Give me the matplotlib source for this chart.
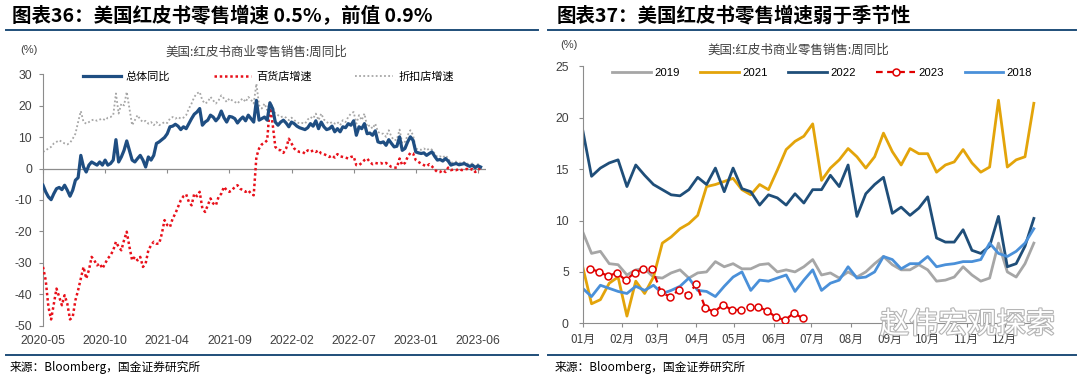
import numpy as np
import matplotlib
matplotlib.use("Agg")
import matplotlib.pyplot as plt
from matplotlib.lines import Line2D
import matplotlib.patheffects as pe

plt.rcParams['font.family'] = ['Liberation Sans', 'Noto Sans CJK SC', 'DejaVu Sans']
plt.rcParams['axes.unicode_minus'] = False

# ---- left chart: weekly YoY, 2020-05 .. 2023-06
total = [-5.3, -7.4, -9.0, -9.9, -8.0, -6.4, -6.0, -6.7, -5.3, -6.9, -8.8, -6.9, -3.7, -2.9, 4.2, 0.5,
         -1.1, 1.1, 2.1, 1.6, 1.1, 2.1, 1.1, 2.7, 1.1, 1.6, 2.7, 9.2, 2.1, 3.7, 5.8, 8.8,
         5.8, 2.7, 2.1, 3.2, 4.2, 2.7, 0.5, 3.7, 2.7, 4.2, 8.0, 8.5, 9.2, 9.9, 11.1, 13.3,
         13.5, 14.1, 13.5, 12.4, 13.3, 12.7, 14.3, 15.9, 17.3, 18.0, 19.1, 13.8, 14.8, 15.4, 17.0, 16.4,
         15.2, 16.2, 18.3, 16.2, 14.8, 16.6, 16.4, 15.9, 14.5, 15.6, 16.4, 15.2, 17.0, 15.9, 14.8, 21.7,
         15.4, 15.9, 16.4, 15.4, 20.9, 19.1, 14.8, 13.8, 14.8, 15.4, 14.5, 13.3, 14.8, 14.3, 13.5, 13.0,
         12.7, 12.4, 13.0, 14.3, 13.5, 15.2, 12.7, 14.8, 13.3, 12.4, 12.7, 13.5, 11.7, 12.7, 11.7, 13.3,
         13.0, 14.3, 13.8, 15.2, 10.6, 13.3, 12.7, 14.3, 11.1, 11.3, 10.6, 12.0, 8.5, 8.2, 8.5, 7.4,
         9.2, 8.0, 6.9, 7.1, 10.1, 5.8, 6.4, 8.5, 10.1, 9.0, 5.3, 5.0, 4.8, 5.0, 4.2, 4.8,
         5.3, 3.9, 2.7, 2.9, 2.4, 3.2, 2.4, 1.1, 1.4, 1.6, 1.2, 1.4, 1.6, 1.1, 0.7, 1.1,
         0.3, 0.9, 0.5]
dept_store = [-31.3, -35.5, -44.0, -48.0, -43.0, -38.2, -40.8, -43.5, -40.3, -43.0, -48.0, -47.2, -41.9, -38.7, -35.0, -31.3,
              -35.0, -32.3, -28.1, -29.2, -30.8, -30.2, -31.8, -30.2, -28.6, -27.6, -26.0, -23.3, -24.9, -26.0, -22.8, -20.1,
              -24.9, -29.2, -28.1, -29.2, -28.1, -31.3, -30.2, -26.0, -24.4, -23.3, -23.9, -23.9, -20.7, -16.4, -18.0, -18.6,
              -15.9, -14.3, -12.2, -10.1, -8.8, -8.2, -10.6, -11.7, -8.0, -8.8, -7.4, -12.7, -13.8, -11.7, -9.5, -11.1,
              -11.7, -9.0, -8.0, -5.8, -6.9, -7.4, -6.9, -5.8, -5.3, -6.4, -6.9, -7.4, -6.9, -8.0, -8.5, 3.7,
              6.4, 7.7, 8.2, 9.0, 20.1, 14.3, 6.9, 6.0, 5.8, 5.0, 6.4, 9.5, 8.0, 6.4, 5.6, 5.3,
              5.3, 4.8, 5.8, 5.3, 5.8, 5.3, 5.8, 4.8, 4.6, 4.2, 3.7, 4.2, 3.5, 4.6, 3.9, 3.7,
              3.5, 3.2, 3.7, 3.9, 1.1, 1.1, 1.8, 2.7, 3.2, 2.1, 1.4, 1.8, 1.6, 1.8, 1.4, 1.8,
              1.1, 0.5, 0.3, 0.3, 3.2, 1.1, 1.8, 3.7, 5.0, 4.8, 2.7, 2.1, 1.6, 1.1, 0.7, 1.4,
              0.7, -0.3, -1.1, -1.1, -0.5, -1.1, 0.3, -0.5, -0.3, -0.5, -0.1, -0.5, -0.3, -0.1, -0.5, -0.1,
              -1.1, -0.5, 0.3]
discount = [5.3, 5.8, 6.4, 6.9, 8.0, 8.5, 9.0, 8.5, 8.0, 7.7, 8.2, 9.5, 11.1, 14.8, 18.3, 14.8,
            14.3, 14.8, 15.4, 15.6, 15.2, 15.6, 15.9, 15.4, 16.2, 16.4, 17.0, 23.9, 17.5, 20.7, 20.1, 24.4,
            19.1, 13.8, 15.4, 17.0, 15.6, 14.8, 15.2, 14.3, 14.8, 13.8, 14.8, 13.8, 14.3, 14.8, 14.5, 15.9,
            16.4, 15.9, 16.4, 15.9, 16.2, 17.0, 19.1, 20.7, 22.8, 23.9, 24.4, 21.7, 20.7, 21.2, 22.8, 21.7,
            20.7, 21.7, 23.3, 22.3, 21.2, 22.3, 21.7, 21.2, 20.7, 21.7, 22.3, 21.2, 22.8, 21.9, 20.7, 27.0,
            20.1, 19.1, 20.7, 18.6, 21.2, 19.6, 17.5, 17.0, 16.4, 16.6, 16.2, 15.4, 16.2, 15.4, 14.8, 14.3,
            14.5, 14.3, 15.6, 16.4, 15.9, 17.5, 15.4, 17.5, 15.6, 14.8, 14.3, 14.8, 14.3, 14.8, 13.8, 15.4,
            14.8, 16.4, 17.5, 18.0, 14.3, 17.0, 15.4, 17.5, 13.3, 13.8, 12.7, 14.3, 11.7, 11.1, 11.1, 10.1,
            12.2, 10.1, 9.0, 9.2, 12.4, 8.0, 8.5, 10.6, 12.2, 10.6, 6.4, 6.0, 6.0, 6.4, 5.8, 6.4,
            6.0, 4.8, 3.7, 3.9, 3.5, 4.2, 3.2, 1.8, 2.1, 2.2, 1.8, 2.0, 2.1, 1.6, 1.4, 1.6,
            0.7, 1.4, 1.0]
left_ticks = [0, 23, 46, 69, 92, 115, 138, 161]
left_labels = ['2020-05', '2020-10', '2021-04', '2021-09', '2022-02', '2022-07', '2023-01', '2023-06']

# ---- right chart: weekly YoY by year, x = day of year
y2019 = [8.9, 6.8, 7.0, 5.8, 5.7, 4.7, 5.2, 5.3, 4.5, 4.4, 4.9, 5.2, 4.4, 4.9, 5.0, 6.0,
         5.5, 5.8, 5.3, 5.3, 5.7, 5.8, 5.0, 5.2, 5.0, 5.5, 6.2, 4.7, 4.9, 4.4, 5.0, 4.5,
         5.0, 5.8, 6.5, 5.7, 5.2, 5.2, 5.7, 5.2, 4.1, 4.2, 4.5, 5.5, 4.7, 4.1, 4.4, 7.8,
         5.0, 4.5, 5.8, 7.8]
y2021 = [5.5, 1.9, 2.3, 3.9, 4.5, 0.7, 4.1, 2.9, 4.5, 7.8, 8.4, 9.2, 9.7, 10.5, 13.3, 13.5,
         13.8, 14.1, 13.0, 12.5, 13.5, 13.0, 14.9, 16.9, 17.7, 18.2, 19.4, 13.9, 15.1, 15.9, 17.0, 16.2,
         15.1, 16.2, 18.5, 16.7, 15.4, 17.0, 16.5, 16.5, 14.7, 15.4, 15.7, 16.9, 15.6, 14.7, 15.2, 21.7,
         15.2, 15.9, 16.2, 21.4]
y2022 = [18.8, 14.3, 15.1, 15.6, 15.9, 13.3, 15.4, 14.4, 13.5, 13.0, 12.5, 12.4, 13.0, 14.2, 13.5, 15.1,
         12.8, 15.1, 13.1, 12.8, 11.5, 12.5, 12.2, 11.5, 12.6, 11.7, 13.0, 13.0, 14.4, 13.3, 15.4, 10.4,
         12.6, 13.5, 14.2, 10.7, 11.3, 10.5, 11.2, 12.3, 8.3, 7.9, 7.9, 9.1, 7.1, 6.8, 7.5, 10.4,
         5.5, 5.8, 7.5, 10.2]
y2023 = [5.3, 5.0, 4.6, 4.9, 4.2, 4.9, 5.3, 5.3, 3.0, 2.6, 3.2, 2.8, 3.8, 1.5, 1.1, 1.8,
         1.3, 1.3, 1.6, 1.6, 1.2, 0.6, 0.3, 1.0, 0.5]
y2018 = [3.4, 2.6, 3.7, 3.4, 3.1, 2.9, 3.6, 3.2, 3.7, 2.9, 3.2, 3.6, 4.4, 3.2, 3.1, 2.6,
         3.6, 4.5, 5.0, 3.2, 4.2, 4.1, 4.4, 4.7, 3.1, 4.2, 5.2, 3.2, 3.9, 4.2, 5.5, 4.4,
         4.5, 5.0, 6.5, 6.2, 5.3, 5.8, 5.8, 6.5, 5.5, 5.7, 5.8, 6.0, 6.0, 6.2, 7.8, 6.8,
         6.5, 7.0, 7.8, 9.2]
month_days = [1, 32, 60, 91, 121, 152, 182, 213, 244, 274, 305, 335]
month_labels = ['01月', '02月', '03月', '04月', '05月', '06月', '07月', '08月', '09月', '10月', '11月', '12月']

axis_gray = '#8c8c8c'
txt = '#404040'
rule = '#1f4e79'

fig = plt.figure(figsize=(10.8, 3.8), dpi=100)

# titles and rules
fig.text(12 / 1080, 1 - 16 / 380, '图表36：美国红皮书零售增速 0.5%，前值 0.9%', fontsize=14,
         fontweight='bold', va='center', ha='left', family=['Noto Sans CJK SC'])
fig.text(557 / 1080, 1 - 16 / 380, '图表37：美国红皮书零售增速弱于季节性', fontsize=14,
         fontweight='bold', va='center', ha='left', family=['Noto Sans CJK SC'])
for x0, x1 in [(6, 538), (548, 1076)]:
    fig.add_artist(Line2D([x0 / 1080, x1 / 1080], [1 - 30 / 380] * 2, color=rule, lw=1.4))
    fig.add_artist(Line2D([x0 / 1080, x1 / 1080], [1 - 355 / 380] * 2, color=rule, lw=1.4))
fig.text(10 / 1080, 1 - 367 / 380, '来源：Bloomberg，国金证券研究所', fontsize=8.5, va='center',
         family=['Noto Sans CJK SC'])
fig.text(555 / 1080, 1 - 367 / 380, '来源：Bloomberg，国金证券研究所', fontsize=8.5, va='center',
         family=['Noto Sans CJK SC'])

# ---- left
ax = fig.add_axes([43 / 1080, 1 - 325.7 / 380, 443 / 1080, 251.4 / 380])
wk = np.arange(len(total))
ax.plot(wk, discount, color='#a6a6a6', lw=1.3, ls=(0, (1, 1.3)), label='折扣店增速', zorder=2)
ax.plot(wk, dept_store, color='#e8101a', lw=1.8, ls=(0, (1, 1.1)), label='百货店增速', zorder=3)
ax.plot(wk, total, color='#1f4e82', lw=2.3, label='总体同比', zorder=4)
ax.set_xlim(0, 164)
ax.set_ylim(-50, 30)
ax.set_yticks(range(-50, 31, 10))
ax.set_xticks(left_ticks, left_labels)
ax.tick_params(axis='x', length=0, pad=7, labelsize=8.8, labelcolor=txt)
ax.tick_params(axis='y', length=3, pad=5, labelsize=8.8, labelcolor=txt, color=axis_gray)
for s in ['top', 'right', 'bottom']:
    ax.spines[s].set_visible(False)
ax.spines['left'].set_color(axis_gray)
ax.axhline(0, color=axis_gray, lw=0.9, zorder=1)
sec = ax.secondary_xaxis(0, transform=ax.transData)
sec.set_xticks(left_ticks)
sec.tick_params(axis='x', length=3, color=axis_gray, labelbottom=False)
sec.spines['bottom'].set_visible(False)
h, l = ax.get_legend_handles_labels()
ax.legend(h[::-1], l[::-1], ncol=3, loc='center left', bbox_to_anchor=(83 / 1080, 1 - 77 / 380),
          bbox_transform=fig.transFigure, frameon=False, borderpad=0, borderaxespad=0,
          handlelength=3.4, handletextpad=0.45, columnspacing=3.9, prop={'family': ['Noto Sans CJK SC'], 'size': 8})
fig.text(20 / 1080, 1 - 50 / 380, '(%)', fontsize=8, color=txt, va='center')
fig.text(256 / 1080, 1 - 52 / 380, '美国:红皮书商业零售销售:周同比', fontsize=9, color=txt, ha='center',
         va='center', family=['Noto Sans CJK SC'])

# ---- right
ax2 = fig.add_axes([582.7 / 1080, 1 - 323.3 / 380, 460 / 1080, 257 / 380])
days = 1 + 7 * np.arange(len(y2019))
days23 = 7 + 7 * np.arange(len(y2023))
ax2.plot(days, y2019, color='#a6a6a6', lw=2.0, label='2019')
ax2.plot(days, y2021, color='#e3a40a', lw=2.0, label='2021')
ax2.plot(days, y2022, color='#1f4e79', lw=2.0, label='2022')
ax2.plot(days23, y2023, color='#e00000', lw=1.6, ls=(0, (3, 2)), marker='o', ms=5, mfc='white',
         mec='#e00000', mew=1.1, label='2023', zorder=5)
ax2.plot(days, y2018, color='#4a90d9', lw=2.0, label='2018')
ax2.set_xlim(1, 365)
ax2.set_ylim(0, 25)
ax2.set_yticks(range(0, 26, 5))
ax2.set_xticks(month_days, month_labels, family=['Noto Sans CJK SC'])
ax2.tick_params(axis='x', length=3, pad=4, labelsize=8.5, labelcolor=txt, color=axis_gray)
ax2.tick_params(axis='y', length=3, pad=7, labelsize=8.8, labelcolor=txt, color=axis_gray)
for s in ['top', 'right']:
    ax2.spines[s].set_visible(False)
ax2.spines['left'].set_color(axis_gray)
ax2.spines['bottom'].set_color(axis_gray)
ax2.legend(ncol=5, loc='center left', bbox_to_anchor=(612 / 1080, 1 - 73 / 380),
           bbox_transform=fig.transFigure, frameon=False, borderpad=0, borderaxespad=0,
           handlelength=3.4, handletextpad=0.3, columnspacing=1.8, fontsize=8.2)
fig.text(560 / 1080, 1 - 45 / 380, '(%)', fontsize=8, color=txt, va='center')
fig.text(798 / 1080, 1 - 50 / 380, '美国:红皮书商业零售销售:周同比', fontsize=9, color=txt, ha='center',
         va='center', family=['Noto Sans CJK SC'])

# watermark
fig.text(880 / 1080, 1 - 325 / 380, '赵伟宏观探索', fontsize=21, color='white', va='center', ha='left',
         family=['Noto Sans CJK SC'], zorder=10,
         path_effects=[pe.withStroke(linewidth=1.6, foreground='#b5b5b5')])

fig.savefig('out.png', dpi=100)
